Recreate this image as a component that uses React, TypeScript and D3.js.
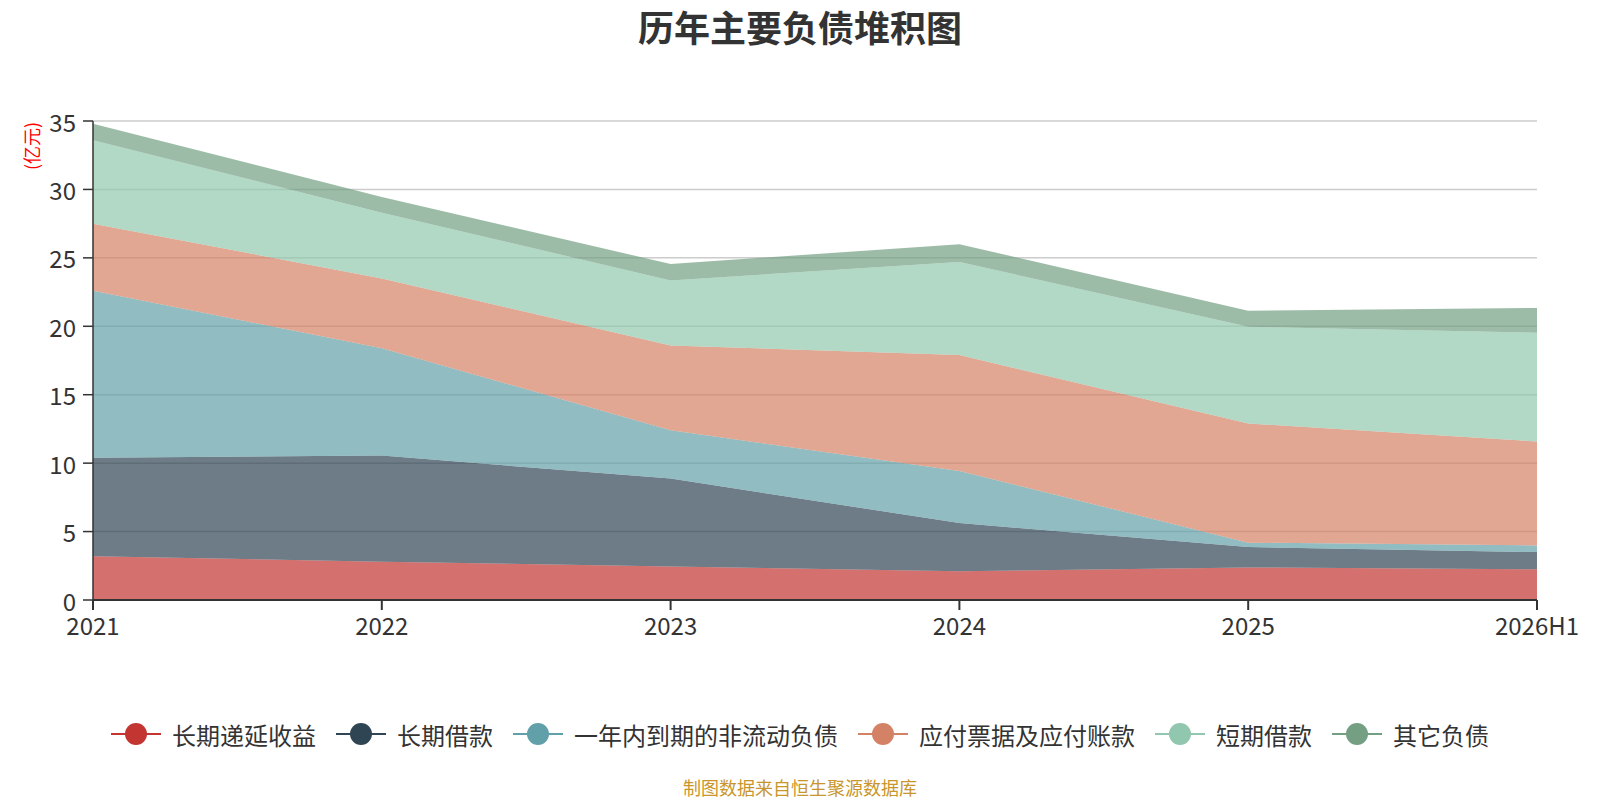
import {useMemo} from "react";
import * as d3 from "d3";

const WIDTH = 1600;
const HEIGHT = 800;
const MARGIN = {top: 121, right: 63, bottom: 200, left: 93};
const FONT = "'Noto Sans CJK SC', 'Microsoft YaHei', sans-serif";

const YEARS = ["2021", "2022", "2023", "2024", "2025", "2026H1"];
const SERIES_NAMES = ["长期递延收益", "长期借款", "一年内到期的非流动负债", "应付票据及应付账款", "短期借款", "其它负债"];
const COLORS = ["#c23531", "#2f4554", "#61a0a8", "#d48265", "#91c7ae", "#749f83"];
const Y_TICKS = [0, 5, 10, 15, 20, 25, 30, 35];

// 亿元
const deferredIncome = [3.2, 2.8, 2.45, 2.1, 2.38, 2.25];
const longTermLoans = [7.2, 7.75, 6.42, 3.52, 1.49, 1.25];
const currentNonCurrent = [12.2, 7.85, 3.53, 3.81, 0.32, 0.49];
const notesPayable = [4.9, 5.1, 6.2, 8.47, 8.71, 7.59];
const shortTermLoans = [6.1, 4.8, 4.75, 6.8, 7.07, 7.95];
const otherLiabilities = [1.2, 1.15, 1.2, 1.3, 1.17, 1.81];

const SERIES_VALUES = [deferredIncome, longTermLoans, currentNonCurrent, notesPayable, shortTermLoans, otherLiabilities];

export default function App() {
    const boundsWidth = WIDTH - MARGIN.left - MARGIN.right;
    const boundsHeight = HEIGHT - MARGIN.top - MARGIN.bottom;

    const rows = useMemo(() => YEARS.map((year, i) => {
        const row: Record<string, number | string> = {year};
        SERIES_NAMES.forEach((name, s) => { row[name] = SERIES_VALUES[s][i]; });
        return row;
    }), []);

    const stacked = useMemo(() => d3.stack<any>().keys(SERIES_NAMES)(rows), [rows]);

    const xScale = d3.scalePoint().domain(YEARS).range([0, boundsWidth]);
    const yScale = d3.scaleLinear().domain([0, 35]).range([boundsHeight, 0]);

    const area = d3.area<any>()
        .x((d) => xScale(d.data.year as string) ?? 0)
        .y0((d) => yScale(d[0]))
        .y1((d) => yScale(d[1]));

    // legend layout, centred under the chart
    const charW = 24, iconW = 50, iconGap = 11, itemGap = 20;
    const itemWidths = SERIES_NAMES.map((n) => iconW + iconGap + n.length * charW);
    const legendTotal = d3.sum(itemWidths) + itemGap * (SERIES_NAMES.length - 1);
    let cursor = WIDTH / 2 - legendTotal / 2;
    const legendX = itemWidths.map((w) => { const x = cursor; cursor += w + itemGap; return x; });

    return (
        <svg width={WIDTH} height={HEIGHT} style={{position: "absolute", left: 0, top: 0, fontFamily: FONT}}>
            <rect width={WIDTH} height={HEIGHT} fill="#fff"/>
            <text x={WIDTH / 2} y={26} textAnchor="middle" dominantBaseline="central"
                  fontSize={36} fontWeight="bold" fill="#333">历年主要负债堆积图</text>

            <text transform={`translate(31,146) rotate(-90)`} textAnchor="middle" dominantBaseline="central"
                  fontSize={18} fill="#ff0000">(亿元)</text>

            <g transform={`translate(${MARGIN.left},${MARGIN.top})`}>
                {Y_TICKS.map((t) => (
                    <g key={t} transform={`translate(0,${yScale(t)})`}>
                        {t > 0 && <line x1={0} x2={boundsWidth} stroke="#ccc" strokeWidth={1.5}/>}
                        <line x1={-10} x2={0} stroke="#333" strokeWidth={1.5}/>
                        <text x={-17} textAnchor="end" dominantBaseline="central" fontSize={24} fill="#333">{t}</text>
                    </g>
                ))}

                {stacked.map((layer, i) => (
                    <path key={layer.key} d={area(layer) ?? ""} fill={COLORS[i]} fillOpacity={0.7}/>
                ))}

                <line x1={0} x2={0} y1={0} y2={boundsHeight} stroke="#333" strokeWidth={1.5}/>
                <line x1={0} x2={boundsWidth} y1={boundsHeight} y2={boundsHeight} stroke="#333" strokeWidth={2}/>
                {YEARS.map((yr) => (
                    <g key={yr} transform={`translate(${xScale(yr)},${boundsHeight})`}>
                        <line y1={0} y2={10} stroke="#333" strokeWidth={2}/>
                        <text y={24} textAnchor="middle" dominantBaseline="central" fontSize={24} fill="#333">{yr}</text>
                    </g>
                ))}
            </g>

            <g transform={`translate(0,734)`}>
                {SERIES_NAMES.map((name, i) => (
                    <g key={name} transform={`translate(${legendX[i]},0)`}>
                        <line x1={0} x2={iconW} stroke={COLORS[i]} strokeWidth={2}/>
                        <circle cx={iconW / 2} r={11} fill={COLORS[i]}/>
                        <text x={iconW + iconGap} dominantBaseline="central" fontSize={24} fill="#333">{name}</text>
                    </g>
                ))}
            </g>

            <text x={WIDTH / 2} y={787} textAnchor="middle" dominantBaseline="central" fontSize={18}
                  fill="#c8962d">制图数据来自恒生聚源数据库</text>
        </svg>
    );
}
